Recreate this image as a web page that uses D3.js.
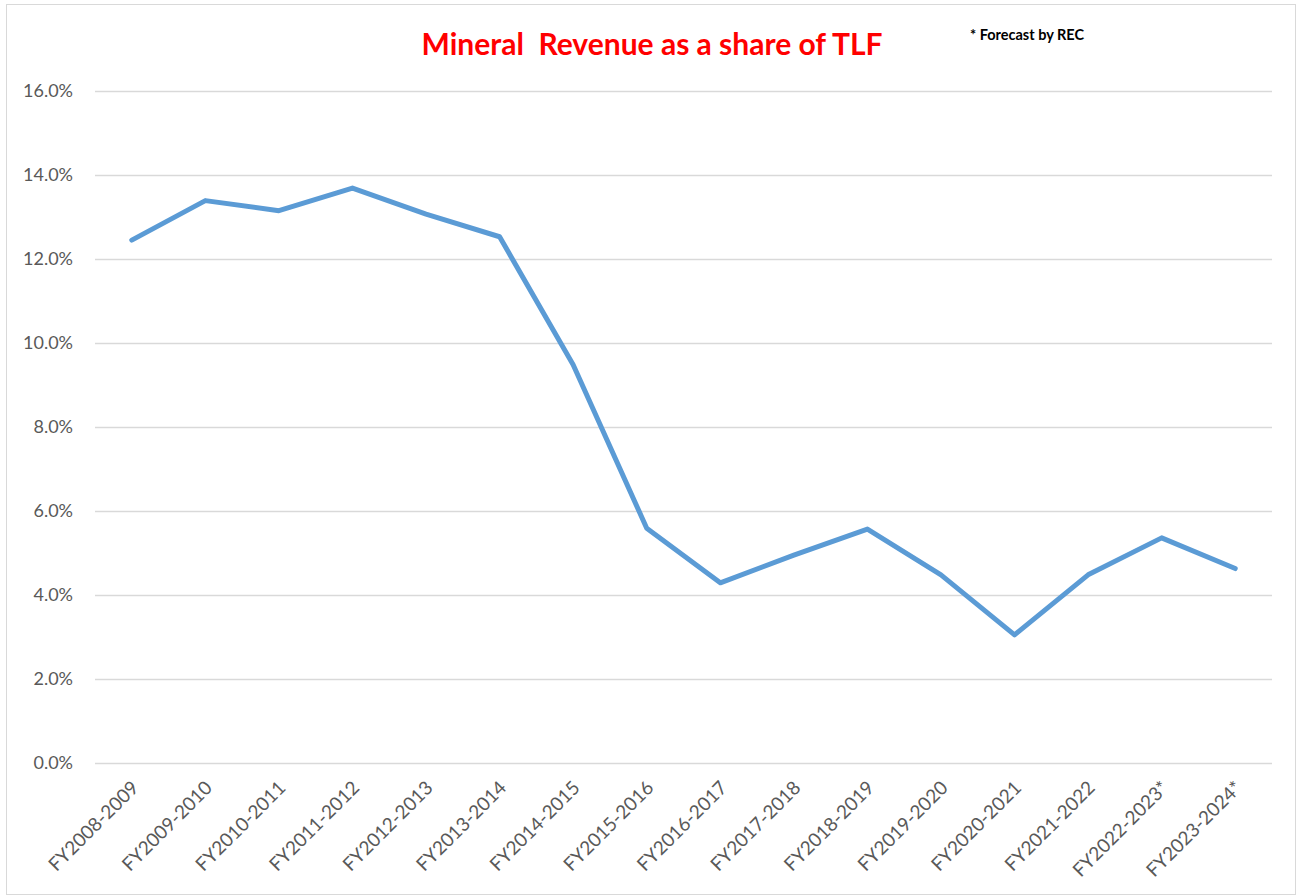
<!DOCTYPE html>
<html>
<head>
<meta charset="utf-8">
<script src="https://cdn.jsdelivr.net/npm/d3@7"></script>
<style>
  body { margin: 0; background: #fff; }
  svg { display: block; }
</style>
</head>
<body>
<svg id="chart" width="1297" height="896"></svg>
<script>
// data
var years = ["FY2008-2009", "FY2009-2010", "FY2010-2011", "FY2011-2012", "FY2012-2013",
  "FY2013-2014", "FY2014-2015", "FY2015-2016", "FY2016-2017", "FY2017-2018",
  "FY2018-2019", "FY2019-2020", "FY2020-2021", "FY2021-2022", "FY2022-2023*", "FY2023-2024*"];
var shares = [12.45, 13.39, 13.15, 13.69, 13.07, 12.53, 9.48, 5.59, 4.29, 4.95,
  5.57, 4.48, 3.05, 4.48, 5.36, 4.63];
var yTicks = [0, 2, 4, 6, 8, 10, 12, 14, 16];

var svg = d3.select("#chart");
var margin = { left: 95, right: 25, top: 91, bottom: 133 };
var width = 1297, height = 896;

// outer frame
svg.append("rect")
  .attr("x", 6.5).attr("y", 4.5)
  .attr("width", 1289).attr("height", 890)
  .attr("fill", "none")
  .attr("stroke", "#d9d9d9");

var x = d3.scaleBand()
  .domain(years)
  .range([margin.left, width - margin.right]);

var y = d3.scaleLinear()
  .domain([0, 16])
  .range([height - margin.bottom, margin.top]);

// gridlines
var yAxis = d3.axisLeft(y)
  .tickValues(yTicks)
  .tickSize(-(width - margin.left - margin.right))
  .tickPadding(22)
  .tickFormat(function(d) { return d.toFixed(1) + "%"; });

var gy = svg.append("g")
  .attr("transform", "translate(" + margin.left + ",0)")
  .call(yAxis);
gy.select(".domain").remove();
gy.selectAll("line").attr("stroke", "#d9d9d9").attr("stroke-width", 1.3);
gy.selectAll("text")
  .attr("fill", "#595959")
  .style("font-family", "Lato, 'Open Sans', sans-serif")
  .style("font-size", "18px");

var xAxis = d3.axisBottom(x).tickSize(0).tickPadding(0);
var gx = svg.append("g")
  .attr("transform", "translate(0," + (height - margin.bottom) + ")")
  .call(xAxis);
gx.select(".domain").remove();
gx.selectAll("text")
  .attr("fill", "#595959")
  .style("font-family", "Lato, 'Open Sans', sans-serif")
  .style("font-size", "19px")
  .attr("text-anchor", "end")
  .attr("dy", "0")
  .attr("transform", "translate(8,26) rotate(-45)");

// the line
var line = d3.line()
  .x(function(d, i) { return x(years[i]) + x.bandwidth() / 2; })
  .y(function(d) { return y(d); });

svg.append("path")
  .datum(shares)
  .attr("d", line)
  .attr("fill", "none")
  .attr("stroke", "#5b9bd5")
  .attr("stroke-width", 5)
  .attr("stroke-linejoin", "round")
  .attr("stroke-linecap", "round");

// title and note
svg.append("text")
  .attr("x", 652).attr("y", 55)
  .attr("text-anchor", "middle")
  .attr("fill", "#ff0000")
  .style("font-family", "Lato, 'Open Sans', sans-serif")
  .style("font-weight", "bold")
  .style("font-size", "30px")
  .style("white-space", "pre")
  .text("Mineral  Revenue as a share of TLF");

svg.append("text")
  .attr("x", 970).attr("y", 40)
  .attr("fill", "#000")
  .style("font-family", "Lato, 'Open Sans', sans-serif")
  .style("font-weight", "bold")
  .style("font-size", "14.5px")
  .text("* Forecast by REC");
</script>
</body>
</html>
